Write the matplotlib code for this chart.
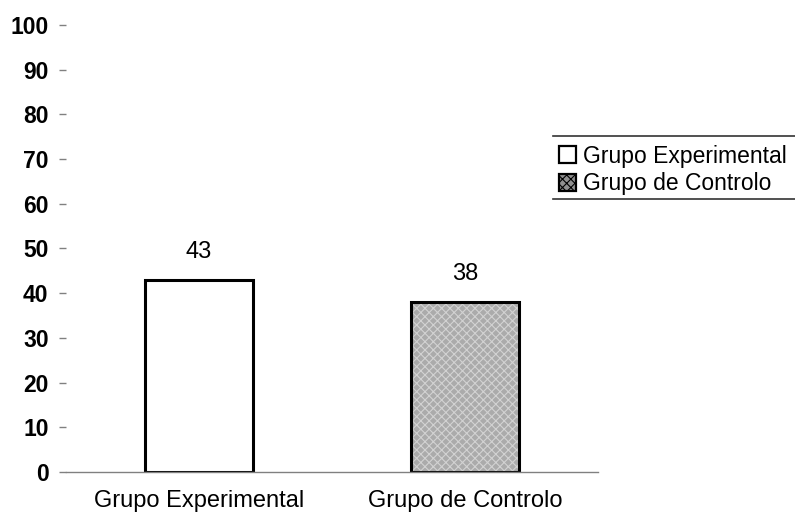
import matplotlib
matplotlib.use("Agg")
import matplotlib.pyplot as plt
from matplotlib.lines import Line2D
from matplotlib.patches import Patch

groups = ["Grupo Experimental", "Grupo de Controlo"]
values = [43, 38]
yticks = [0, 10, 20, 30, 40, 50, 60, 70, 80, 90, 100]

FILL = ["white", "#ababab"]
TEXTURE = [None, "xxxx"]

plt.rcParams["font.family"] = ["Liberation Sans", "DejaVu Sans"]
plt.rcParams["hatch.linewidth"] = 0.8

fig = plt.figure(figsize=(7.95, 5.17), dpi=100)
fig.patch.set_facecolor("white")
ax = fig.add_axes([0.083, 0.087, 0.669, 0.865])

x = list(range(len(groups)))
# textured fill first, then the outlined bar on top
for xi, v, fc, h in zip(x, values, FILL, TEXTURE):
    if h:
        ax.bar(xi, v, width=0.405, color=fc, hatch=h, edgecolor="#d2d2d2", lw=0)
    else:
        ax.bar(xi, v, width=0.405, color=fc, lw=0)
bars = ax.bar(x, values, width=0.405, fill=False, edgecolor="black", lw=2.2)

for b, v in zip(bars, values):
    ax.annotate(f"{v}", (b.get_x() + b.get_width() / 2, v), xytext=(0, 12),
                textcoords="offset points", ha="center", va="bottom", fontsize=17)

ax.set_xlim(-0.5, 1.5)
ax.set_ylim(0, 100)
ax.set_yticks(yticks)
ax.set_yticklabels([str(t) for t in yticks], fontsize=16.5, fontweight="bold")
ax.set_xticks(x)
ax.set_xticklabels(groups, fontsize=17)
ax.tick_params(axis="y", length=5, color="#808080", width=1, pad=7.5)
ax.tick_params(axis="x", length=0, pad=13)
for s in ("top", "right", "left"):
    ax.spines[s].set_visible(False)
ax.spines["bottom"].set_color("#808080")
ax.spines["bottom"].set_linewidth(1)

handles = [Patch(facecolor="white", edgecolor="black", lw=1.6),
           Patch(facecolor="#909090", edgecolor="black", lw=1.6, hatch="xxxx")]
fig.legend(handles, groups, loc="upper left", bbox_to_anchor=(0.691, 0.738),
           frameon=False, fontsize=16.5, handlelength=0.75, handleheight=0.75,
           handletextpad=0.3, labelspacing=0.2, borderaxespad=0)
for yy in (136, 199):
    fig.add_artist(Line2D([553 / 795, 1.0], [1 - yy / 517] * 2, color="#333333", lw=1.2))

fig.savefig("out.png", dpi=100)
